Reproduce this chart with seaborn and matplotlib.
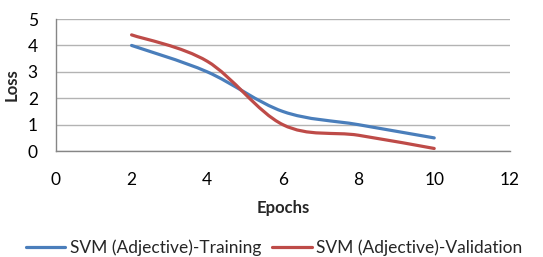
import numpy as np
import pandas as pd
import matplotlib
matplotlib.use("Agg")
import matplotlib.pyplot as plt
from matplotlib.path import Path
from matplotlib.patches import PathPatch
import seaborn as sns

epochs = [2, 4, 6, 8, 10]
train_loss = [4.0, 3.0, 1.5, 1.0, 0.5]
val_loss = [4.4, 3.4, 1.0, 0.6, 0.1]
series_names = ["SVM (Adjective)-Training", "SVM (Adjective)-Validation"]
colors = ["#4a7ebb", "#be4b48"]

df = pd.DataFrame({
    "Epochs": epochs * 2,
    "Loss": train_loss + val_loss,
    "series": [series_names[0]] * len(epochs) + [series_names[1]] * len(epochs),
})

sns.set_style("white")
plt.rcParams["font.family"] = ["Lato", "DejaVu Sans"]

fig = plt.figure(figsize=(5.43, 2.57), dpi=100)
ax = fig.add_axes([0.103, 0.412, 0.836, 0.514])

sns.lineplot(data=df, x="Epochs", y="Loss", hue="series", palette=colors,
             linewidth=2.3, ax=ax)


def smooth_path(xy):
    # excel-style smoothed line: cubic bezier through the points
    pts = np.asarray(xy)
    verts = [pts[0]]
    codes = [Path.MOVETO]
    n = len(pts)
    for i in range(n - 1):
        p0 = pts[max(i - 1, 0)]
        p1 = pts[i]
        p2 = pts[i + 1]
        p3 = pts[min(i + 2, n - 1)]
        c1 = p1 + (p2 - p0) / 6.0
        c2 = p2 - (p3 - p1) / 6.0
        verts += [c1, c2, p2]
        codes += [Path.CURVE4] * 3
    return Path(verts, codes)


# swap the straight segments for smoothed curves
for line in list(ax.lines):
    xy = line.get_xydata()
    if len(xy) < 2:
        continue
    patch = PathPatch(smooth_path(xy), facecolor="none", edgecolor=line.get_color(),
                      linewidth=2.3, capstyle="round", zorder=3)
    ax.add_patch(patch)
    line.remove()

ax.set_xlim(0, 12)
ax.set_ylim(0, 5)
ax.set_xticks(range(0, 13, 2))
ax.set_yticks(range(0, 6))
ax.yaxis.grid(True, color="#b3b3b3", linewidth=1)
ax.set_axisbelow(True)
for side in ["top", "right"]:
    ax.spines[side].set_visible(False)
for side in ["left", "bottom"]:
    ax.spines[side].set_color("#868686")
    ax.spines[side].set_linewidth(1)
ax.tick_params(axis="both", which="major", direction="out", length=5,
               color="#868686", labelsize=12.5, labelcolor="#000000")
ax.tick_params(axis="x", pad=10)
ax.tick_params(axis="y", pad=8)
ax.set_xlabel("Epochs", fontsize=12, fontweight="bold", labelpad=9)
ax.set_ylabel("Loss", fontsize=12, fontweight="bold", labelpad=6)

sns.move_legend(ax, "lower center", bbox_to_anchor=(0.48, -0.915), ncol=2,
                frameon=False, title=None, fontsize=12.5, handlelength=2.3,
                handletextpad=0.25, columnspacing=0.6)

fig.savefig("out.png", dpi=100)
